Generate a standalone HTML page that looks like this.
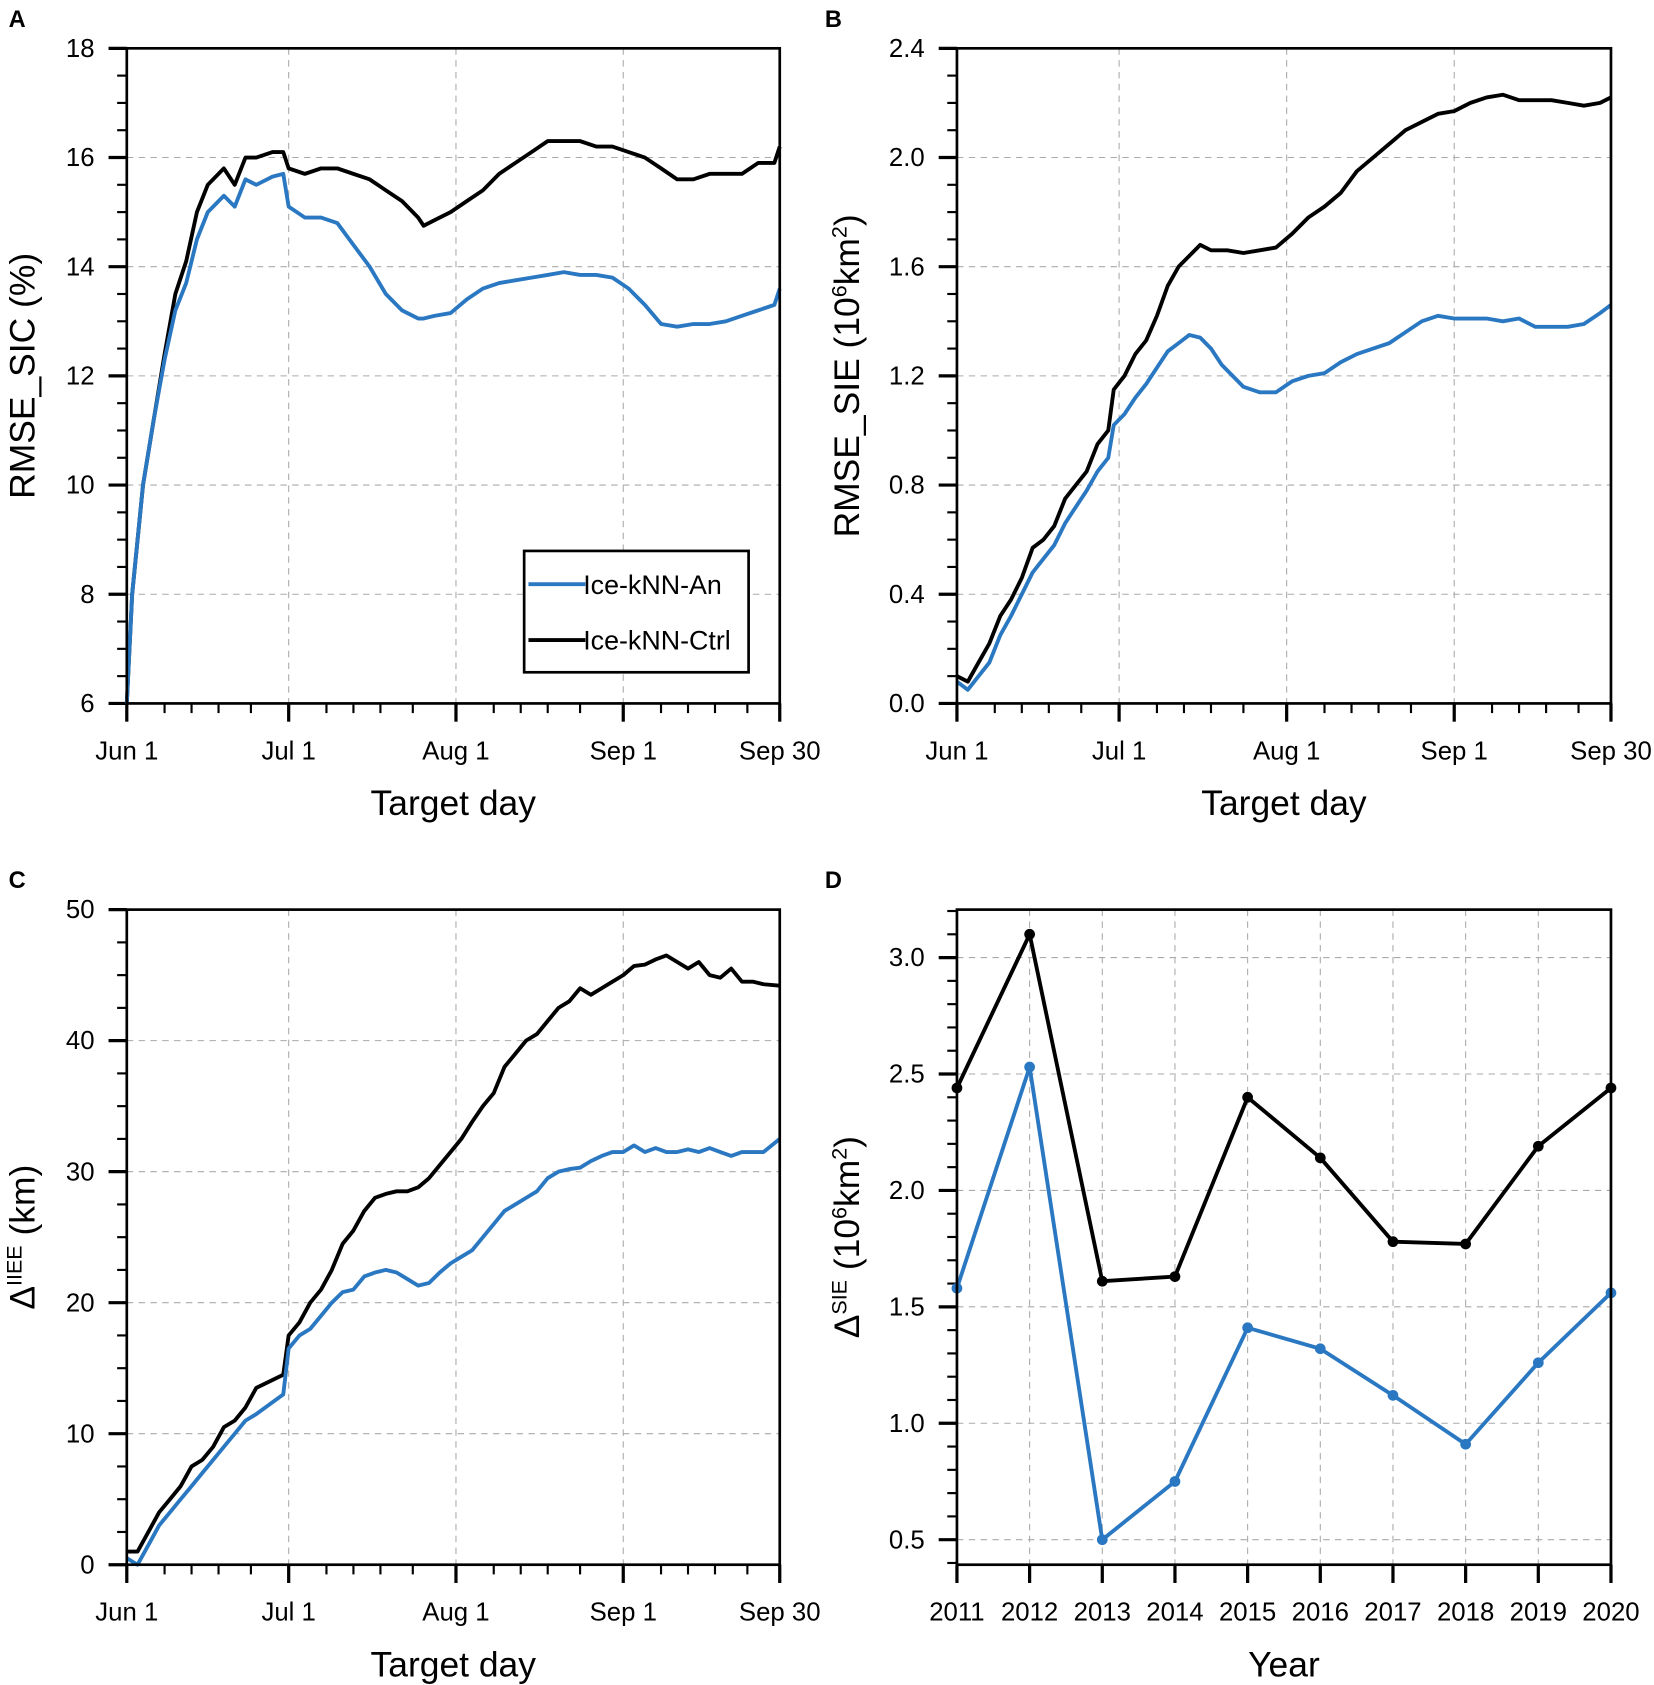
<!DOCTYPE html>
<html><head><meta charset="utf-8"><style>
html,body{margin:0;padding:0;background:#fff;}
svg{display:block;font-family:"Liberation Sans",Arial,sans-serif;}
</style></head><body>
<svg id="fig" width="1654" height="1685" viewBox="0 0 1540 1569" xmlns="http://www.w3.org/2000/svg"></svg>
<script>
// ---- data ----
const dayA = [0,1,3,5,7,9,11,13,15,18,20,22,24,27,29,30,33,36,39,42,45,48,51,54,55,57,60,63,66,69,72,75,78,81,84,87,90,93,96,99,102,105,108,111,114,117,120,121];
const ctrlA = [6,8,10,11.2,12.4,13.5,14.1,15,15.5,15.8,15.5,16.0,16.0,16.1,16.1,15.8,15.7,15.8,15.8,15.7,15.6,15.4,15.2,14.9,14.75,14.85,15.0,15.2,15.4,15.7,15.9,16.1,16.3,16.3,16.3,16.2,16.2,16.1,16.0,15.8,15.6,15.6,15.7,15.7,15.7,15.9,15.9,16.2];
const anA = [6,8,10,11.2,12.3,13.2,13.7,14.5,15.0,15.3,15.1,15.6,15.5,15.65,15.7,15.1,14.9,14.9,14.8,14.4,14.0,13.5,13.2,13.05,13.05,13.1,13.15,13.4,13.6,13.7,13.75,13.8,13.85,13.9,13.85,13.85,13.8,13.6,13.3,12.95,12.9,12.95,12.95,13.0,13.1,13.2,13.3,13.6];
const dayB = [0,2,4,6,8,10,12,14,16,18,20,22,24,26,28,29,31,33,35,37,39,41,43,45,47,50,53,56,59,62,65,68,71,74,77,80,83,86,89,92,95,98,101,104,107,110,113,116,119,121];
const ctrlB = [0.1,0.08,0.15,0.22,0.32,0.38,0.46,0.57,0.6,0.65,0.75,0.8,0.85,0.95,1.0,1.15,1.2,1.28,1.33,1.42,1.53,1.6,1.64,1.68,1.66,1.66,1.65,1.66,1.67,1.72,1.78,1.82,1.87,1.95,2.0,2.05,2.1,2.13,2.16,2.17,2.2,2.22,2.23,2.21,2.21,2.21,2.2,2.19,2.2,2.22];
const dayB2 = [0,2,4,6,8,10,12,14,16,18,20,22,24,26,28,29,31,33,35,37,39,41,43,45,47,49,51,53,56,59,62,65,68,71,74,77,80,83,86,89,92,95,98,101,104,107,110,113,116,119,121];
const anB = [0.08,0.05,0.1,0.15,0.25,0.32,0.4,0.48,0.53,0.58,0.66,0.72,0.78,0.85,0.9,1.02,1.06,1.12,1.17,1.23,1.29,1.32,1.35,1.34,1.3,1.24,1.2,1.16,1.14,1.14,1.18,1.2,1.21,1.25,1.28,1.3,1.32,1.36,1.4,1.42,1.41,1.41,1.41,1.4,1.41,1.38,1.38,1.38,1.39,1.43,1.46];
const dayC = [0,2,4,6,8,10,12,14,16,18,20,22,24,29,30,32,34,36,38,40,42,44,46,48,50,52,54,56,58,60,62,64,66,68,70,72,74,76,78,80,82,84,86,88,90,92,94,96,98,100,102,104,106,108,110,112,114,116,118,121];
const ctrlC = [1,1,2.5,4,5,6,7.5,8,9,10.5,11,12,13.5,14.5,17.5,18.5,20,21,22.5,24.5,25.5,27,28,28.3,28.5,28.5,28.8,29.5,30.5,31.5,32.5,33.8,35,36,38,39,40,40.5,41.5,42.5,43,44,43.5,44,44.5,45,45.7,45.8,46.2,46.5,46,45.5,46,45,44.8,45.5,44.5,44.5,44.3,44.2];
const anC = [0.5,0,1.5,3,4,5,6,7,8,9,10,11,11.5,13,16.5,17.5,18,19,20,20.8,21,22,22.3,22.5,22.3,21.8,21.3,21.5,22.3,23,23.5,24,25,26,27,27.5,28,28.5,29.5,30,30.2,30.3,30.8,31.2,31.5,31.5,32,31.5,31.8,31.5,31.5,31.7,31.5,31.8,31.5,31.2,31.5,31.5,31.5,32.5];
const years = [2011,2012,2013,2014,2015,2016,2017,2018,2019,2020];
const ctrlD = [2.44,3.10,1.61,1.63,2.40,2.14,1.78,1.77,2.19,2.44];
const anD = [1.58,2.53,0.50,0.75,1.41,1.32,1.12,0.91,1.26,1.56];
const monthTicks = [0,30,61,92,121];
const monthLabels = ["Jun 1","Jul 1","Aug 1","Sep 1","Sep 30"];
const minorDays = [7,12,17,23,37,42,47,53,68,73,78,84,99,104,109,115];
const BLUE="#2b78c2";
// ---- helpers ----
const S=document.getElementById('fig');
const NS="http://www.w3.org/2000/svg";
function mk(tag,attrs,txt){const e=document.createElementNS(NS,tag);for(const k in attrs)e.setAttribute(k,attrs[k]);if(txt!==undefined)e.textContent=txt;S.appendChild(e);return e;}
function panel(p){
  const {x0,x1,y0,y1,ymin,ymax} = p;
  const sx=v=>x0+(v-p.xmin)/(p.xmax-p.xmin)*(x1-x0);
  const sy=v=>y1-(v-ymin)/(ymax-ymin)*(y1-y0);
  p.xMajor.forEach(v=>{const X=sx(v);if(X>x0+1&&X<x1-1){const g=mk('line',{x1:X,x2:X,y1:y0,y2:y1,stroke:'#aaa','stroke-width':1,'stroke-dasharray':'6,5'});}});
  p.yMajor.forEach(v=>{const Y=sy(v);if(Y>y0+1&&Y<y1-1){const g=mk('line',{x1:x0,x2:x1,y1:Y,y2:Y,stroke:'#aaa','stroke-width':1,'stroke-dasharray':'6,5'});}});
  p.yMajor.forEach((v,i)=>{const Y=sy(v);mk('line',{x1:x0-17,x2:x0,y1:Y,y2:Y,stroke:'#000','stroke-width':3});
    const t=mk('text',{x:x0-30,y:Y+8,'text-anchor':'end','font-size':24},p.yLabels[i]);});
  p.yMinor.forEach(v=>{const Y=sy(v);mk('line',{x1:x0-9,x2:x0,y1:Y,y2:Y,stroke:'#000','stroke-width':2});});
  p.xMajor.forEach((v,i)=>{const X=sx(v);mk('line',{x1:X,x2:X,y1:y1,y2:y1+17,stroke:'#000','stroke-width':3});
    const t=mk('text',{x:X,y:y1+52,'text-anchor':'middle','font-size':24},p.xLabels[i]);});
  p.xMinor.forEach(v=>{const X=sx(v);mk('line',{x1:X,x2:X,y1:y1,y2:y1+9,stroke:'#000','stroke-width':2});});
  p.series.forEach(s=>{
    const d=s.xs.map((v,i)=>(i?'L':'M')+sx(v).toFixed(1)+','+sy(s.ys[i]).toFixed(1)).join('');
    const l=mk('path',{d:d,fill:'none',stroke:s.color,'stroke-width':3.6,'stroke-linejoin':'round'});
    
    
    if(s.dots) s.xs.forEach((v,i)=>{const c=mk('circle',{cx:sx(v),cy:sy(s.ys[i]),r:5,fill:s.color});
      
      });
  });
  const fr=mk('rect',{x:x0,y:y0,width:x1-x0,height:y1-y0,fill:'none',stroke:'#000','stroke-width':2.5});
  
  const lt=mk('text',{x:p.letterX,y:y0-20,'font-size':22,'font-weight':'bold'},p.letter);
  
  const xt=mk('text',{x:(x0+x1)/2,y:y1+104,'text-anchor':'middle','font-size':33},p.xTitle);
  
  const cy=(y0+y1)/2, cx=p.yTitleX;
  const yt=mk('text',{x:cx,y:cy,'text-anchor':'middle','font-size':33,transform:`rotate(-90 ${cx} ${cy})`});
  
  yt.innerHTML=p.yTitleHTML;
}
function rng(a,b,s){const r=[];for(let v=a;v<=b+1e-9;v+=s)r.push(+v.toFixed(4));return r;}
const dayPanel={xmin:0,xmax:121,xMajor:monthTicks,xLabels:monthLabels,xMinor:minorDays,xTitle:"Target day"};
panel(Object.assign({},dayPanel,{id:'panel-a',letter:'A',letterX:8,x0:118,x1:726,y0:45,y1:655,ymin:6,ymax:18,
  yMajor:rng(6,18,2),yLabels:["6","8","10","12","14","16","18"],yMinor:rng(6,18,0.5),yTitleX:32,
  yTitleHTML:'RMSE_SIC (%)',
  series:[{name:'ctrl',xs:dayA,ys:ctrlA,color:'#000'},{name:'an',xs:dayA,ys:anA,color:BLUE}]}));
panel(Object.assign({},dayPanel,{id:'panel-b',letter:'B',letterX:768,x0:891,x1:1500,y0:45,y1:655,ymin:0,ymax:2.4,
  yMajor:rng(0,2.4,0.4),yLabels:["0.0","0.4","0.8","1.2","1.6","2.0","2.4"],yMinor:rng(0,2.4,0.1),yTitleX:800,
  yTitleHTML:'RMSE_SIE (10<tspan dy="-12" font-size="20">6</tspan><tspan dy="12">km</tspan><tspan dy="-12" font-size="20">2</tspan><tspan dy="12">)</tspan>',
  series:[{name:'ctrl',xs:dayB,ys:ctrlB,color:'#000'},{name:'an',xs:dayB2,ys:anB,color:BLUE}]}));
panel(Object.assign({},dayPanel,{id:'panel-c',letter:'C',letterX:8,x0:118,x1:726,y0:847,y1:1457,ymin:0,ymax:50,
  yMajor:rng(0,50,10),yLabels:["0","10","20","30","40","50"],yMinor:rng(0,50,2.5),yTitleX:32,
  yTitleHTML:'Δ<tspan dy="-12" font-size="20">IIEE</tspan><tspan dy="12"> (km)</tspan>',
  series:[{name:'ctrl',xs:dayC,ys:ctrlC,color:'#000'},{name:'an',xs:dayC,ys:anC,color:BLUE}]}));
panel({id:'panel-d',letter:'D',letterX:768,x0:891,x1:1500,y0:847,y1:1457,xmin:2011,xmax:2020,ymin:0.3925,ymax:3.206,
  xMajor:years,xLabels:years.map(String),xMinor:[],xTitle:"Year",
  yMajor:rng(0.5,3.0,0.5),yLabels:["0.5","1.0","1.5","2.0","2.5","3.0"],yMinor:rng(0.4,3.2,0.1),yTitleX:800,
  yTitleHTML:'Δ<tspan dy="-12" font-size="20">SIE</tspan><tspan dy="12"> (10</tspan><tspan dy="-12" font-size="20">6</tspan><tspan dy="12">km</tspan><tspan dy="-12" font-size="20">2</tspan><tspan dy="12">)</tspan>',
  series:[{name:'ctrl',xs:years,ys:ctrlD,color:'#000',dots:true},{name:'an',xs:years,ys:anD,color:BLUE,dots:true}]});
const lg=mk('rect',{x:488,y:513,width:209,height:113,fill:'#fff',stroke:'#000','stroke-width':2.5});

[[BLUE,'Ice-kNN-An',544],['#000','Ice-kNN-Ctrl',596]].forEach(([c,t,y])=>{
  mk('line',{x1:492,x2:545,y1:y,y2:y,stroke:c,'stroke-width':3.6});
  const e=mk('text',{x:543,y:y+9,'font-size':25},t);
  
  
});
</script>
</body></html>
